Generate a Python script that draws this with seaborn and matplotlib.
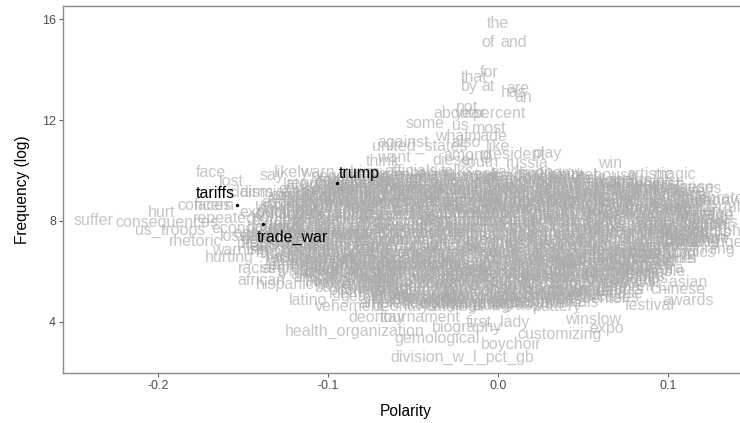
import matplotlib
matplotlib.use("Agg")
import matplotlib.pyplot as plt
import pandas as pd
import seaborn as sns

# ---------------- data ----------------
key_words = ["tariffs", "trump", "trade_war"]
key_polarity = [-0.1535, -0.0947, -0.1382]
key_freq = [8.63, 9.50, 7.88]

outer_words = [
    "the", "of", "and", "for", "that", "by", "at", "are", "has", "an",
    "not", "about", "year", "percent", "some", "us", "most", "against", "what", "made",
    "united_states", "also", "like", "among", "president", "play", "think", "want", "diesel", "south",
    "russia", "win", "artistic", "magic", "sports", "english", "chinese", "celebrated", "loved", "singers",
    "musicians", "painter", "challenges", "singing", "photo", "station", "curator", "first_asian", "chinese", "awards",
    "festival", "winslow", "expo", "customizing", "boychoir", "division_w_l_pct_gb", "gemological", "biography", "first_lady", "health_organization",
    "deontay", "tournament", "latino", "vehement", "hispanic", "african", "racial", "hurting", "rhetoric", "us_troops",
    "consequences", "repeated", "hurt", "concern", "faces", "face", "lost", "claims", "dismissed", "say",
    "likely", "warn", "late", "country", "expect", "suffer", "continue", "economists", "losses", "fear",
    "warning",
]
outer_polarity = [
    0.000, -0.006, 0.009, -0.005, -0.014, -0.017, -0.006, 0.012, 0.009, 0.015,
    -0.018, -0.026, -0.016, 0.001, -0.043, -0.022, -0.005, -0.056, -0.027, -0.006,
    -0.046, -0.019, 0.000, -0.018, 0.009, 0.029, -0.068, -0.061, -0.026, -0.011,
    0.017, 0.066, 0.089, 0.104, 0.078, 0.095, 0.111, 0.128, 0.103, 0.126,
    0.111, 0.109, 0.126, 0.116, 0.084, 0.092, 0.089, 0.102, 0.106, 0.112,
    0.089, 0.056, 0.064, 0.036, 0.008, -0.021, -0.036, -0.018, 0.000, -0.084,
    -0.071, -0.046, -0.112, -0.087, -0.125, -0.139, -0.142, -0.158, -0.178, -0.193,
    -0.195, -0.161, -0.198, -0.172, -0.168, -0.169, -0.157, -0.145, -0.131, -0.133,
    -0.121, -0.106, -0.119, -0.121, -0.138, -0.238, -0.116, -0.145, -0.150, -0.140,
    -0.152,
]
outer_freq = [
    15.84, 15.05, 15.05, 13.90, 13.70, 13.31, 13.31, 13.23, 13.07, 12.90,
    12.51, 12.24, 12.24, 12.24, 11.88, 11.80, 11.68, 11.09, 11.33, 11.33,
    10.97, 11.09, 10.97, 10.61, 10.65, 10.69, 10.34, 10.53, 10.38, 10.30,
    10.26, 10.26, 9.86, 9.86, 9.62, 9.43, 9.31, 8.91, 8.51, 7.96,
    7.92, 7.56, 7.13, 7.25, 6.73, 6.46, 6.06, 5.58, 5.27, 4.87,
    4.67, 4.08, 3.76, 3.49, 3.09, 2.61, 3.33, 3.80, 4.00, 3.64,
    4.16, 4.16, 4.87, 4.63, 5.47, 5.66, 6.10, 6.57, 7.17, 7.64,
    7.96, 8.08, 8.32, 8.63, 8.60, 9.94, 9.58, 9.11, 9.11, 9.82,
    9.94, 9.94, 9.43, 8.71, 8.32, 8.00, 9.00, 7.70, 7.40, 7.00,
    6.85,
]

cloud_words = [
    "china", "trade", "officials", "beijing", "talks", "week", "said", "deal", "economy", "market",
    "washington", "administration", "imports", "goods", "billion", "percent", "steel", "exports", "prices", "growth", "new", "global",
    "country", "government", "companies", "investors", "stocks", "jobs", "policy", "products", "industry", "world", "american", "chinese", "people", "year", "first",
    "economic", "soybeans", "farmers", "manufacturing", "duties", "negotiations", "agreement", "market", "europe", "canada", "mexico", "japan", "business", "support", "students", "culture",
    "retaliation", "conflict", "dispute", "pressure", "aluminum", "federal", "security", "national", "congress", "technology", "supply", "companies", "customers", "community", "school", "music", "family",
    "uncertainty", "concerns", "threat", "tension", "slowdown", "currency", "dollar", "reserve", "quarter", "analysts", "forecast", "research", "university", "health", "festival", "season", "team",
    "damage", "risk", "decline", "drop", "fears", "tariff", "trade_deal", "xi_jinping", "meeting", "summit", "statement", "report", "data", "sales", "revenue", "celebration", "arts", "gallery",
    "punitive", "crisis", "attack", "criticism", "worse", "volatility", "index", "shares", "dow", "nasdaq", "oil", "energy", "agriculture", "workers", "wages", "concert", "exhibition", "heritage",
    "unfair", "loss", "fall", "hit", "cut", "lawsuit", "court", "judge", "police", "election", "vote", "campaign", "media", "news", "tourism", "dance", "performance", "theater",
    "pain", "recession", "retaliatory", "barriers", "deficit", "imports", "exports", "million", "trillion", "two", "three", "state", "states", "nation", "international", "foreign", "museum", "photography",
    "violence", "discrimination", "protest", "domestic", "local", "city", "region", "area", "home", "water", "food", "restaurant", "travel", "hotel", "weather", "children", "artist", "tradition",
    "problems", "difficult", "angry", "blame", "women", "men", "life", "time", "day", "monday", "tuesday", "wednesday", "thursday", "friday", "saturday", "sunday", "beautiful", "painting",
    "struggle", "poor", "victims", "immigrants", "border", "wall", "military", "defense", "navy", "army", "players", "coach", "league", "points", "record", "history", "award_winning",
    "racist", "hate", "fighting", "killed", "refugees", "migrants", "asylum", "church", "religious", "students", "teachers", "education", "science", "innovation", "talent", "creative",
    "injustice", "minority", "ethnic", "identity", "diversity", "population", "census", "survey", "poll", "voters", "candidates", "senator", "governor", "mayor", "council", "gala",
    "segregation", "slavery", "civil_rights", "activists", "movement", "protesters", "marchers", "leaders", "speech", "rally", "parade", "ceremony", "anniversary", "honor", "orchestra",
    "african", "americans", "black", "white", "latinos", "asians", "communities", "neighborhood", "residents", "volunteers", "nonprofit", "foundation", "scholarship", "choir",
    "boxing", "heavyweight", "fighter", "champion", "bout", "fury", "knockout", "round", "title", "belt", "promoter", "venue", "tickets",
    "baseball", "pitcher", "inning", "standings", "mlb", "yankees", "dodgers", "roster", "bullpen", "homer", "playoffs", "pennant",
    "gemstones", "jewelry", "diamonds", "carat", "appraisal", "collector", "auction", "vintage", "antiques", "showcase",
    "ambient", "tournament", "wilder", "fairgrounds", "biography", "pastor", "sermon", "hymns", "expo_center",
    "deontays", "firstlady", "catalogs", "tailgating", "bluegrass", "hobbyists", "pottery",
]
cloud_polarity = [
    -0.080, -0.066, -0.051, -0.038, -0.024, -0.010, 0.004, 0.018, 0.031, 0.045,
    -0.085, -0.071, -0.057, -0.043, -0.029, -0.015, -0.001, 0.013, 0.027, 0.041, 0.055, 0.068,
    -0.100, -0.086, -0.071, -0.057, -0.043, -0.029, -0.014, 0.000, 0.014, 0.029, 0.043, 0.057, 0.071, 0.086, 0.100,
    -0.108, -0.094, -0.079, -0.065, -0.050, -0.036, -0.022, -0.007, 0.007, 0.022, 0.036, 0.050, 0.065, 0.079, 0.094, 0.108,
    -0.115, -0.101, -0.086, -0.072, -0.058, -0.043, -0.029, -0.014, 0.000, 0.014, 0.029, 0.043, 0.058, 0.072, 0.086, 0.101, 0.115,
    -0.120, -0.105, -0.090, -0.075, -0.061, -0.046, -0.031, -0.016, -0.001, 0.014, 0.029, 0.044, 0.059, 0.073, 0.088, 0.103, 0.118,
    -0.125, -0.111, -0.096, -0.082, -0.067, -0.053, -0.039, -0.024, -0.010, 0.005, 0.019, 0.033, 0.048, 0.062, 0.077, 0.091, 0.106, 0.120,
    -0.128, -0.113, -0.099, -0.084, -0.069, -0.055, -0.040, -0.025, -0.011, 0.004, 0.019, 0.033, 0.048, 0.063, 0.077, 0.092, 0.107, 0.122,
    -0.126, -0.112, -0.097, -0.082, -0.068, -0.053, -0.038, -0.024, -0.009, 0.006, 0.020, 0.035, 0.050, 0.064, 0.079, 0.094, 0.108, 0.121,
    -0.130, -0.115, -0.100, -0.086, -0.071, -0.056, -0.041, -0.026, -0.012, 0.003, 0.018, 0.033, 0.048, 0.062, 0.077, 0.092, 0.107, 0.122,
    -0.135, -0.120, -0.105, -0.090, -0.075, -0.060, -0.045, -0.030, -0.015, 0.000, 0.015, 0.030, 0.045, 0.060, 0.075, 0.090, 0.105, 0.118,
    -0.134, -0.119, -0.105, -0.090, -0.075, -0.061, -0.046, -0.031, -0.017, -0.002, 0.013, 0.027, 0.042, 0.057, 0.071, 0.086, 0.101, 0.114,
    -0.130, -0.115, -0.100, -0.085, -0.071, -0.056, -0.041, -0.026, -0.011, 0.004, 0.019, 0.034, 0.049, 0.063, 0.078, 0.093, 0.108,
    -0.125, -0.110, -0.095, -0.080, -0.065, -0.050, -0.035, -0.020, -0.005, 0.010, 0.025, 0.040, 0.055, 0.070, 0.085, 0.100,
    -0.120, -0.106, -0.091, -0.077, -0.063, -0.048, -0.034, -0.020, -0.006, 0.009, 0.023, 0.037, 0.052, 0.066, 0.080, 0.095,
    -0.115, -0.100, -0.086, -0.071, -0.056, -0.042, -0.027, -0.013, 0.002, 0.017, 0.031, 0.046, 0.061, 0.075, 0.090,
    -0.108, -0.093, -0.078, -0.063, -0.049, -0.034, -0.019, -0.004, 0.011, 0.026, 0.041, 0.055, 0.070, 0.085,
    -0.100, -0.085, -0.070, -0.055, -0.040, -0.025, -0.010, 0.005, 0.020, 0.035, 0.050, 0.065, 0.080,
    -0.090, -0.075, -0.060, -0.045, -0.030, -0.015, 0.000, 0.015, 0.030, 0.045, 0.060, 0.075,
    -0.075, -0.059, -0.044, -0.028, -0.013, 0.003, 0.019, 0.034, 0.050, 0.065,
    -0.065, -0.051, -0.036, -0.022, -0.007, 0.008, 0.022, 0.036, 0.050,
    -0.055, -0.040, -0.025, -0.010, 0.005, 0.020, 0.035,
]
cloud_freq = [
    9.92, 9.85, 9.95, 9.88, 9.97, 9.84, 9.93, 9.86, 9.90, 9.82,
    9.60, 9.70, 9.62, 9.68, 9.58, 9.72, 9.64, 9.60, 9.70, 9.63, 9.67, 9.60,
    9.38, 9.45, 9.35, 9.42, 9.40, 9.36, 9.46, 9.40, 9.34, 9.44, 9.38, 9.42, 9.36, 9.40, 9.45,
    9.12, 9.20, 9.10, 9.18, 9.14, 9.22, 9.10, 9.16, 9.20, 9.12, 9.18, 9.10, 9.15, 9.20, 9.12, 9.17,
    8.88, 8.95, 8.85, 8.92, 8.90, 8.84, 8.96, 8.88, 8.93, 8.86, 8.90, 8.95, 8.87, 8.92, 8.85, 8.94, 8.88,
    8.62, 8.70, 8.60, 8.68, 8.64, 8.72, 8.60, 8.66, 8.70, 8.62, 8.68, 8.60, 8.66, 8.70, 8.62, 8.68, 8.64,
    8.38, 8.45, 8.35, 8.42, 8.40, 8.36, 8.46, 8.40, 8.34, 8.44, 8.38, 8.42, 8.36, 8.40, 8.45, 8.38, 8.42, 8.36,
    8.12, 8.20, 8.10, 8.18, 8.14, 8.22, 8.10, 8.16, 8.20, 8.12, 8.18, 8.10, 8.15, 8.20, 8.12, 8.17, 8.14, 8.20,
    7.88, 7.95, 7.85, 7.92, 7.90, 7.84, 7.96, 7.88, 7.93, 7.86, 7.90, 7.95, 7.87, 7.92, 7.85, 7.94, 7.88, 7.90,
    7.62, 7.70, 7.60, 7.68, 7.64, 7.72, 7.60, 7.66, 7.70, 7.62, 7.68, 7.60, 7.66, 7.70, 7.62, 7.68, 7.64, 7.60,
    7.38, 7.45, 7.35, 7.42, 7.40, 7.36, 7.46, 7.40, 7.34, 7.44, 7.38, 7.42, 7.36, 7.40, 7.45, 7.38, 7.42, 7.36,
    7.12, 7.20, 7.10, 7.18, 7.14, 7.22, 7.10, 7.16, 7.20, 7.12, 7.18, 7.10, 7.15, 7.20, 7.12, 7.17, 7.14, 7.20,
    6.88, 6.95, 6.85, 6.92, 6.90, 6.84, 6.96, 6.88, 6.93, 6.86, 6.90, 6.95, 6.87, 6.92, 6.85, 6.94, 6.88,
    6.62, 6.70, 6.60, 6.68, 6.64, 6.72, 6.60, 6.66, 6.70, 6.62, 6.68, 6.60, 6.66, 6.70, 6.62, 6.68,
    6.38, 6.45, 6.35, 6.42, 6.40, 6.36, 6.46, 6.40, 6.34, 6.44, 6.38, 6.42, 6.36, 6.40, 6.45, 6.38,
    6.12, 6.20, 6.10, 6.18, 6.14, 6.22, 6.10, 6.16, 6.20, 6.12, 6.18, 6.10, 6.15, 6.20, 6.12,
    5.88, 5.95, 5.85, 5.92, 5.90, 5.84, 5.96, 5.88, 5.93, 5.86, 5.90, 5.95, 5.87, 5.92,
    5.62, 5.70, 5.60, 5.68, 5.64, 5.72, 5.60, 5.66, 5.70, 5.62, 5.68, 5.60, 5.66,
    5.38, 5.45, 5.35, 5.42, 5.40, 5.36, 5.46, 5.40, 5.34, 5.44, 5.38, 5.42,
    5.12, 5.20, 5.10, 5.18, 5.14, 5.22, 5.10, 5.16, 5.20, 5.12,
    4.88, 4.95, 4.85, 4.92, 4.90, 4.84, 4.96, 4.88, 4.93,
    4.62, 4.70, 4.60, 4.68, 4.64, 4.72, 4.60,
]

cloud_b_words = [
    "negotiators", "lighthizer", "mnuchin", "navarro", "kudlow", "huawei", "truce", "deadline", "g20", "tweet", "white_house",
    "republicans", "democrats", "senate", "house", "vote", "taxes", "budget", "spending", "infrastructure", "housing", "mortgage", "airlines", "holiday", "shopping",
    "consumers", "retailers", "automakers", "semiconductors", "exporters", "importers", "shipping", "containers", "ports", "logistics", "freight", "warehouse", "inventory", "holidays", "families", "celebrations",
    "uncertain", "escalation", "sanctions", "embargo", "intellectual", "property", "theft", "cyber", "espionage", "partnership", "cooperation", "friendship", "exchange", "visitors", "tourists", "performers", "artists",
    "escalating", "threatened", "warned", "imposed", "levied", "investigation", "commerce", "department", "treasury", "secretary", "ambassador", "embassy", "delegation", "visit", "welcome", "hospitality", "musical", "symphony",
    "downturn", "plunged", "tumbled", "selloff", "bearish", "earnings", "outlook", "guidance", "estimate", "economists", "indicators", "employment", "hiring", "bonus", "generous", "perform", "enjoy", "wonderful",
    "collapse", "shortage", "bankruptcy", "layoffs", "closures", "factories", "plants", "output", "production", "capacity", "investment", "capital", "funding", "grants", "awarded", "honored", "celebrate", "talented",
    "burden", "costly", "expensive", "penalties", "fines", "regulations", "rules", "standards", "compliance", "reforms", "opening", "access", "partners", "allies", "friends", "smile", "happy", "vibrant",
    "harmful", "hardship", "suffering", "struggling", "anxious", "worried", "skeptical", "cautious", "optimistic", "confident", "hopeful", "positive", "strong", "robust", "healthy", "lively", "colorful", "elegant",
    "opposition", "protests", "backlash", "outrage", "scandal", "investigators", "prosecutors", "testimony", "hearing", "committee", "chairman", "members", "board", "directors", "executives", "ceo", "designers", "creators",
    "poverty", "homeless", "inequality", "injustices", "neighbors", "downtown", "suburbs", "rural", "villages", "province", "county", "district", "borough", "campus", "library", "theatre", "studio", "sculpture",
    "abuse", "shooting", "crime", "arrested", "charged", "sentenced", "prison", "officers", "sheriff", "firefighters", "rescue", "hospital", "doctors", "nurses", "patients", "wellness", "yoga",
    "racially", "hateful", "bigotry", "deported", "detention", "ice_agents", "customs", "enforcement", "veterans", "soldiers", "troops", "football", "basketball", "soccer", "tennis", "golf", "olympics",
    "racists", "nationalism", "extremists", "gunman", "mosque", "synagogue", "pastors", "worship", "faith", "classes", "curriculum", "graduates", "engineering", "startups", "entrepreneurs", "designer",
    "ethnicity", "minorities", "heritage_month", "hispanics", "demographics", "households", "income", "median", "respondents", "ballots", "primaries", "caucus", "legislature", "commissioners", "banquet",
    "lynching", "apartheid", "boycott", "advocates", "organizers", "demonstrators", "activism", "leadership", "keynote", "march", "floats", "graduation", "jubilee", "tribute", "ensemble",
    "africans", "blacks", "whites", "latina", "asian_americans", "indigenous", "tribal", "neighborhoods", "homeowners", "volunteer", "charity", "donations", "scholarships", "choirs",
    "boxer", "heavyweights", "fighters", "champions", "bouts", "rematch", "undefeated", "rounds", "titles", "belts", "promoters", "arena",
    "pitchers", "innings", "shortstop", "mets", "cubs", "outfielder", "rosters", "relievers", "homers", "postseason", "pennants",
    "gemstone", "jewelers", "diamond", "carats", "appraisers", "collectors", "auctions", "vintages", "antique", "showcases",
    "ambience", "tourneys", "wilders", "fairground", "biographies", "pastoral", "sermons", "hymnals",
]
cloud_b_polarity = [
    -0.087, -0.073, -0.059, -0.045, -0.031, -0.017, -0.003, 0.011, 0.025, 0.040, 0.055,
    -0.100, -0.086, -0.071, -0.057, -0.043, -0.029, -0.015, 0.000, 0.014, 0.028, 0.043, 0.057, 0.071, 0.085,
    -0.106, -0.092, -0.078, -0.064, -0.050, -0.035, -0.021, -0.007, 0.007, 0.021, 0.035, 0.050, 0.064, 0.078, 0.092, 0.106,
    -0.112, -0.098, -0.084, -0.070, -0.056, -0.042, -0.028, -0.014, 0.000, 0.014, 0.028, 0.042, 0.056, 0.070, 0.084, 0.098, 0.112,
    -0.118, -0.104, -0.090, -0.076, -0.062, -0.048, -0.034, -0.020, -0.006, 0.008, 0.022, 0.036, 0.050, 0.064, 0.078, 0.092, 0.106, 0.120,
    -0.122, -0.108, -0.093, -0.079, -0.065, -0.050, -0.036, -0.022, -0.007, 0.007, 0.022, 0.036, 0.050, 0.065, 0.079, 0.093, 0.108, 0.122,
    -0.126, -0.111, -0.097, -0.082, -0.068, -0.053, -0.039, -0.024, -0.010, 0.005, 0.019, 0.034, 0.048, 0.063, 0.077, 0.092, 0.107, 0.122,
    -0.130, -0.115, -0.100, -0.086, -0.071, -0.056, -0.041, -0.026, -0.012, 0.003, 0.018, 0.033, 0.048, 0.062, 0.077, 0.092, 0.107, 0.122,
    -0.132, -0.117, -0.102, -0.087, -0.072, -0.057, -0.042, -0.027, -0.012, 0.003, 0.018, 0.033, 0.048, 0.063, 0.078, 0.093, 0.108, 0.122,
    -0.134, -0.119, -0.104, -0.089, -0.074, -0.059, -0.044, -0.029, -0.014, 0.001, 0.016, 0.031, 0.046, 0.061, 0.076, 0.091, 0.106, 0.120,
    -0.136, -0.121, -0.106, -0.091, -0.076, -0.061, -0.046, -0.031, -0.016, -0.001, 0.014, 0.029, 0.044, 0.059, 0.074, 0.089, 0.104, 0.117,
    -0.132, -0.117, -0.102, -0.087, -0.072, -0.057, -0.042, -0.027, -0.012, 0.003, 0.018, 0.033, 0.048, 0.063, 0.078, 0.093, 0.108,
    -0.128, -0.113, -0.098, -0.083, -0.068, -0.053, -0.038, -0.023, -0.008, 0.007, 0.022, 0.037, 0.052, 0.067, 0.082, 0.097, 0.110,
    -0.123, -0.108, -0.093, -0.078, -0.063, -0.048, -0.033, -0.018, -0.003, 0.012, 0.027, 0.042, 0.057, 0.072, 0.087, 0.100,
    -0.118, -0.103, -0.089, -0.074, -0.060, -0.045, -0.031, -0.016, -0.002, 0.013, 0.027, 0.042, 0.056, 0.071, 0.085,
    -0.112, -0.097, -0.083, -0.068, -0.053, -0.039, -0.024, -0.010, 0.005, 0.020, 0.034, 0.049, 0.064, 0.078, 0.090,
    -0.104, -0.089, -0.074, -0.059, -0.045, -0.030, -0.015, 0.000, 0.015, 0.030, 0.045, 0.059, 0.074, 0.086,
    -0.095, -0.080, -0.065, -0.050, -0.035, -0.020, -0.005, 0.010, 0.025, 0.040, 0.055, 0.070,
    -0.083, -0.068, -0.053, -0.038, -0.023, -0.008, 0.007, 0.022, 0.037, 0.052, 0.067,
    -0.072, -0.057, -0.042, -0.027, -0.012, 0.003, 0.018, 0.033, 0.048, 0.060,
    -0.062, -0.047, -0.032, -0.017, -0.002, 0.013, 0.028, 0.042,
]
cloud_b_freq = [
    9.76, 9.80, 9.74, 9.82, 9.78, 9.75, 9.80, 9.77, 9.82, 9.74, 9.79,
    9.50, 9.55, 9.48, 9.54, 9.52, 9.49, 9.56, 9.50, 9.53, 9.47, 9.55, 9.51, 9.48, 9.54,
    9.25, 9.30, 9.24, 9.29, 9.27, 9.23, 9.31, 9.26, 9.28, 9.24, 9.30, 9.26, 9.23, 9.29, 9.25, 9.28,
    9.00, 9.05, 8.99, 9.04, 9.02, 8.98, 9.06, 9.01, 9.03, 8.99, 9.05, 9.01, 8.98, 9.04, 9.00, 9.03, 8.99,
    8.75, 8.80, 8.74, 8.79, 8.77, 8.73, 8.81, 8.76, 8.78, 8.74, 8.80, 8.76, 8.73, 8.79, 8.75, 8.78, 8.74, 8.80,
    8.50, 8.55, 8.48, 8.54, 8.52, 8.49, 8.56, 8.50, 8.53, 8.47, 8.55, 8.51, 8.48, 8.54, 8.50, 8.53, 8.49, 8.55,
    8.25, 8.30, 8.24, 8.29, 8.27, 8.23, 8.31, 8.26, 8.28, 8.24, 8.30, 8.26, 8.23, 8.29, 8.25, 8.28, 8.24, 8.30,
    8.00, 8.05, 7.98, 8.04, 8.02, 7.99, 8.06, 8.00, 8.03, 7.97, 8.05, 8.01, 7.98, 8.04, 8.00, 8.03, 7.99, 8.05,
    7.75, 7.80, 7.74, 7.79, 7.77, 7.73, 7.81, 7.76, 7.78, 7.74, 7.80, 7.76, 7.73, 7.79, 7.75, 7.78, 7.74, 7.80,
    7.50, 7.55, 7.48, 7.54, 7.52, 7.49, 7.56, 7.50, 7.53, 7.47, 7.55, 7.51, 7.48, 7.54, 7.50, 7.53, 7.49, 7.55,
    7.25, 7.30, 7.24, 7.29, 7.27, 7.23, 7.31, 7.26, 7.28, 7.24, 7.30, 7.26, 7.23, 7.29, 7.25, 7.28, 7.24, 7.30,
    7.00, 7.05, 6.98, 7.04, 7.02, 6.99, 7.06, 7.00, 7.03, 6.97, 7.05, 7.01, 6.98, 7.04, 7.00, 7.03, 6.99,
    6.75, 6.80, 6.74, 6.79, 6.77, 6.73, 6.81, 6.76, 6.78, 6.74, 6.80, 6.76, 6.73, 6.79, 6.75, 6.78, 6.74,
    6.50, 6.55, 6.48, 6.54, 6.52, 6.49, 6.56, 6.50, 6.53, 6.47, 6.55, 6.51, 6.48, 6.54, 6.50, 6.53,
    6.25, 6.30, 6.24, 6.29, 6.27, 6.23, 6.31, 6.26, 6.28, 6.24, 6.30, 6.26, 6.23, 6.29, 6.25,
    6.00, 6.05, 5.98, 6.04, 6.02, 5.99, 6.06, 6.00, 6.03, 5.97, 6.05, 6.01, 5.98, 6.04, 6.00,
    5.75, 5.80, 5.74, 5.79, 5.77, 5.73, 5.81, 5.76, 5.78, 5.74, 5.80, 5.76, 5.73, 5.79,
    5.50, 5.55, 5.48, 5.54, 5.52, 5.49, 5.56, 5.50, 5.53, 5.47, 5.55, 5.51,
    5.25, 5.30, 5.24, 5.29, 5.27, 5.23, 5.31, 5.26, 5.28, 5.24, 5.30,
    5.00, 5.05, 4.98, 5.04, 5.02, 4.99, 5.06, 5.00, 5.03, 4.97,
    4.75, 4.80, 4.74, 4.79, 4.77, 4.73, 4.81, 4.76,
]

x_ticks = [-0.2, -0.1, 0.0, 0.1]
x_ticklabels = ["-0.2", "-0.1", "0.0", "0.1"]
y_ticks = [4, 8, 12, 16]
y_ticklabels = ["4", "8", "12", "16"]

assert len(outer_words) == len(outer_polarity) == len(outer_freq)
assert len(cloud_words) == len(cloud_polarity) == len(cloud_freq)
assert len(cloud_b_words) == len(cloud_b_polarity) == len(cloud_b_freq)

words_df = pd.DataFrame({
    "word": outer_words + cloud_words + cloud_b_words,
    "polarity": outer_polarity + cloud_polarity + cloud_b_polarity,
    "freq": outer_freq + cloud_freq + cloud_b_freq,
})
keys_df = pd.DataFrame({"word": key_words, "polarity": key_polarity, "freq": key_freq})

# ---------------- style ----------------
sns.set_theme(style="white")
FONT = ["Liberation Sans", "DejaVu Sans"]
plt.rcParams["font.family"] = FONT

W, H = 740, 423
fig = plt.figure(figsize=(W / 100, H / 100), dpi=100)
ax = fig.add_axes([63 / W, 50 / H, (749 - 63) / W, (373 - 6) / H])

ax.set_xlim(-0.25588, 0.14765)
ax.set_ylim(1.98, 16.515)

grey = "#AAAAAA"
for _, r in words_df.iterrows():
    ax.text(r["polarity"], r["freq"], r["word"], ha="center", va="center",
            fontsize=11.5, color=grey, alpha=0.68, zorder=2)

sns.scatterplot(data=keys_df, x="polarity", y="freq", color="black", s=6,
                linewidth=0, legend=False, ax=ax, zorder=4)

label_offsets = {"tariffs": (-16, 8), "trump": (16, 7), "trade_war": (21, -10)}
for _, r in keys_df.iterrows():
    ax.annotate(r["word"], (r["polarity"], r["freq"]), xytext=label_offsets[r["word"]],
                textcoords="offset points", ha="center", va="center",
                fontsize=11.5, color="black", zorder=5)

ax.set_xticks(x_ticks)
ax.set_xticklabels(x_ticklabels)
ax.set_yticks(y_ticks)
ax.set_yticklabels(y_ticklabels)
ax.tick_params(axis="both", which="major", length=3, width=0.8, color="#666666",
               labelcolor="#4D4D4D", labelsize=9, pad=2, bottom=True, left=True)

for side in ["left", "bottom", "top"]:
    ax.spines[side].set_visible(True)
    ax.spines[side].set_color("#8A8A8A")
    ax.spines[side].set_linewidth(1.0)
ax.spines["right"].set_visible(False)
ax.grid(False)

ax.set_xlabel("Polarity", fontsize=11.2, color="black", labelpad=9)
ax.set_ylabel("Frequency (log)", fontsize=11.2, color="black", labelpad=9)

fig.savefig("out.png", dpi=100)
